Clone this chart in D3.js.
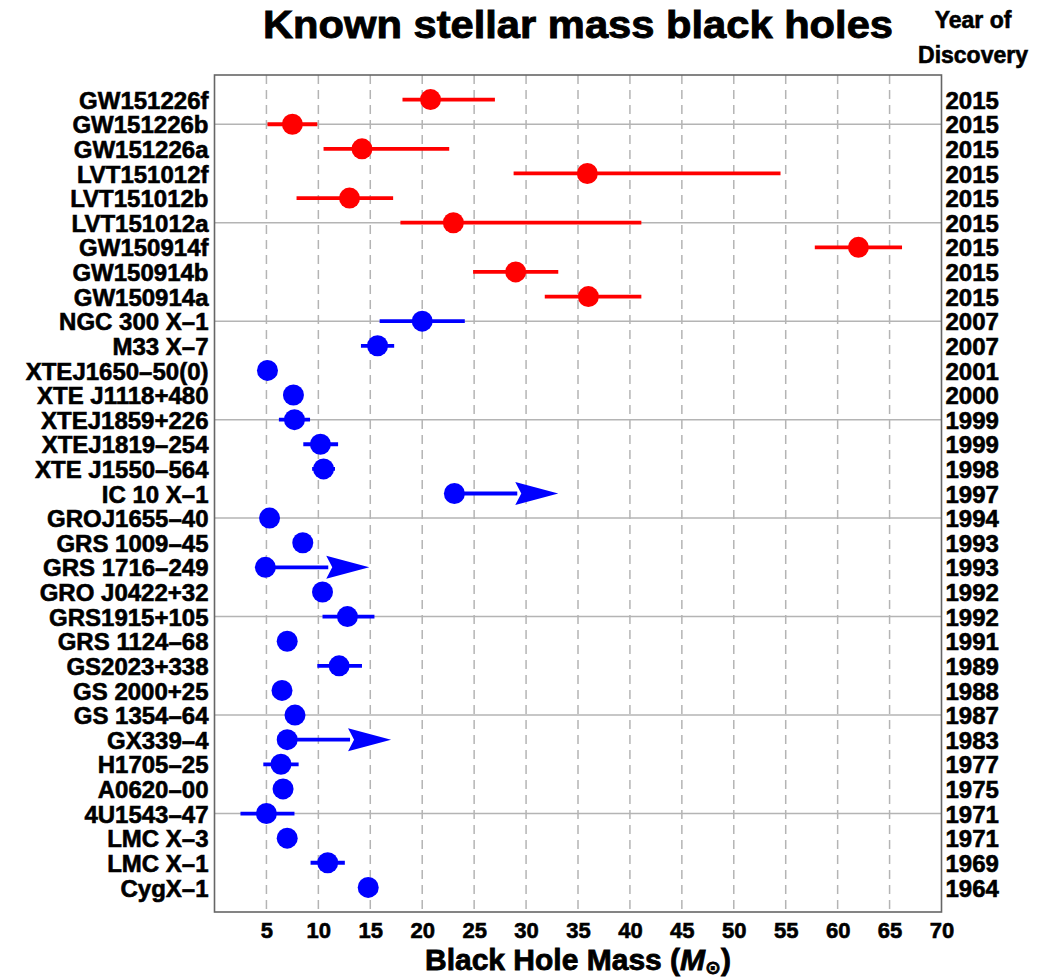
<!DOCTYPE html>
<html>
<head>
<meta charset="utf-8">
<script src="https://cdn.jsdelivr.net/npm/d3@7"></script>
<style>
  html, body { margin: 0; padding: 0; background: #fff; }
  svg text { font-family: "Liberation Sans", Arial, Helvetica, sans-serif; font-weight: bold; fill: #000;
             stroke: #000; stroke-width: 0.6px; paint-order: stroke; }
</style>
</head>
<body>
<svg id="chart" width="1054" height="979"></svg>
<script>
// Known stellar-mass black holes: name, discovery year, mass estimate (solar masses)
const names = [
  "GW151226f", "GW151226b", "GW151226a",
  "LVT151012f", "LVT151012b", "LVT151012a",
  "GW150914f", "GW150914b", "GW150914a",
  "NGC 300 X–1", "M33 X–7", "XTEJ1650–50(0)", "XTE J1118+480",
  "XTEJ1859+226", "XTEJ1819–254", "XTE J1550–564", "IC 10 X–1",
  "GROJ1655–40", "GRS 1009–45", "GRS 1716–249", "GRO J0422+32",
  "GRS1915+105", "GRS 1124–68", "GS2023+338", "GS 2000+25",
  "GS 1354–64", "GX339–4", "H1705–25", "A0620–00",
  "4U1543–47", "LMC X–3", "LMC X–1", "CygX–1"
];
const years = [
  2015, 2015, 2015, 2015, 2015, 2015, 2015, 2015, 2015,
  2007, 2007, 2001, 2000, 1999, 1999, 1998, 1997,
  1994, 1993, 1993, 1992, 1992, 1991, 1989, 1988,
  1987, 1983, 1977, 1975, 1971, 1971, 1969, 1964
];
// gravitational-wave detections vs. X-ray binaries
const detection = [
  "gw", "gw", "gw", "gw", "gw", "gw", "gw", "gw", "gw",
  "xray", "xray", "xray", "xray", "xray", "xray", "xray", "xray",
  "xray", "xray", "xray", "xray", "xray", "xray", "xray", "xray",
  "xray", "xray", "xray", "xray", "xray", "xray", "xray", "xray"
];
const mass = [
  20.8, 7.5, 14.2, 35.9, 13.0, 23.0, 62.0, 29.0, 36.0,
  20.0, 15.7, 5.1, 7.6, 7.7, 10.2, 10.5, 23.1,
  5.3, 8.5, 4.9, 10.4, 12.8, 7.0, 12.0, 6.5,
  7.75, 7.0, 6.4, 6.6, 5.0, 7.0, 10.9, 14.8
];
// lower / upper ends of the uncertainty range (null where none is drawn)
const massLow = [
  18.1, 5.1, 10.5, 28.8, 7.9, 17.9, 57.8, 24.9, 31.8,
  15.9, 14.1, null, null, 6.2, 8.55, 9.4, null,
  null, null, null, null, 10.4, null, 9.9, null,
  null, null, 4.7, null, 2.5, null, 9.25, null
];
const massHigh = [
  27.0, 9.9, 22.6, 54.5, 17.2, 41.1, 66.2, 33.1, 41.1,
  24.1, 17.3, null, null, 9.2, 11.9, 11.6, null,
  null, null, null, null, 15.4, null, 14.2, null,
  null, null, 8.1, null, 7.7, null, 12.55, null
];
// lower limits only: arrow pointing to larger masses
const limitArrowTo = [
  null, null, null, null, null, null, null, null, null,
  null, null, null, null, null, null, null, 33.1,
  null, null, 14.9, null, null, null, null, null,
  null, 17.0, null, null, null, null, null, null
];
const xTicks = [5, 10, 15, 20, 25, 30, 35, 40, 45, 50, 55, 60, 65, 70];
const xDomain = [0, 70];

const colorOf = { gw: "#ff0000", xray: "#0000ff" };

const rows = names.map((name, i) => ({
  name, year: years[i], kind: detection[i], mass: mass[i],
  lo: massLow[i], hi: massHigh[i], arrowTo: limitArrowTo[i]
}));

const svg = d3.select("#chart");
const plotL = 214.5, plotR = 941.5, plotT = 75, plotB = 912;

const x = d3.scaleLinear().domain(xDomain).range([plotL, plotR]);
const y = d3.scalePoint().domain(names).range([plotT, plotB]).padding(1);

// vertical dashed grid
svg.append("g").selectAll("line")
  .data(xTicks.filter(t => t < xDomain[1]))
  .join("line")
  .attr("x1", d => x(d)).attr("x2", d => x(d))
  .attr("y1", plotT).attr("y2", plotB)
  .attr("stroke", "#b4b4b4").attr("stroke-width", 1.5)
  .attr("stroke-dasharray", "9,6");

// solid horizontal grid every fourth row
svg.append("g").selectAll("line")
  .data(names.filter((d, i) => i % 4 === 1))
  .join("line")
  .attr("x1", plotL).attr("x2", plotR)
  .attr("y1", d => y(d)).attr("y2", d => y(d))
  .attr("stroke", "#b4b4b4").attr("stroke-width", 1.5);

// frame
svg.append("rect")
  .attr("x", plotL).attr("y", plotT)
  .attr("width", plotR - plotL).attr("height", plotB - plotT)
  .attr("fill", "none").attr("stroke", "#666").attr("stroke-width", 1.6);

// x axis labels
const xAxis = d3.axisBottom(x).tickValues(xTicks).tickSize(0).tickPadding(0).tickFormat(d3.format("d"));
const gx = svg.append("g").attr("transform", `translate(0,${plotB})`).call(xAxis);
gx.select(".domain").remove();
gx.selectAll("text")
  .attr("y", 26).attr("dy", 0)
  .style("font-size", "22px")
  .style("font-family", "'Liberation Sans', Arial, sans-serif")
  .style("font-weight", "bold")
  .attr("fill", "#000");

// row names on the left
const yAxis = d3.axisLeft(y).tickSize(0).tickPadding(6);
const gy = svg.append("g").attr("transform", `translate(${plotL},0)`).call(yAxis);
gy.select(".domain").remove();
gy.selectAll("text")
  .attr("dy", "0.36em")
  .style("font-size", "24px")
  .style("font-family", "'Liberation Sans', Arial, sans-serif")
  .style("font-weight", "bold")
  .attr("fill", "#000");

// discovery years on the right
const yearOf = new Map(rows.map(r => [r.name, r.year]));
const yAxisR = d3.axisRight(y).tickSize(0).tickPadding(4).tickFormat(n => yearOf.get(n));
const gyr = svg.append("g").attr("transform", `translate(${plotR},0)`).call(yAxisR);
gyr.select(".domain").remove();
gyr.selectAll("text")
  .attr("dy", "0.36em")
  .style("font-size", "24px")
  .style("font-family", "'Liberation Sans', Arial, sans-serif")
  .style("font-weight", "bold")
  .attr("fill", "#000");

const marks = svg.append("g");

// uncertainty bars
marks.selectAll("line.err")
  .data(rows.filter(r => r.lo !== null))
  .join("line").attr("class", "err")
  .attr("x1", d => x(d.lo)).attr("x2", d => x(d.hi))
  .attr("y1", d => y(d.name)).attr("y2", d => y(d.name))
  .attr("stroke", d => colorOf[d.kind]).attr("stroke-width", 3.8);

// lower-limit arrows
const headLen = 43, headHalf = 11.5;
const arrows = marks.selectAll("g.limit")
  .data(rows.filter(r => r.arrowTo !== null))
  .join("g").attr("class", "limit");
arrows.append("line")
  .attr("x1", d => x(d.mass)).attr("x2", d => x(d.arrowTo) - headLen + 2)
  .attr("y1", d => y(d.name)).attr("y2", d => y(d.name))
  .attr("stroke", d => colorOf[d.kind]).attr("stroke-width", 3.8);
arrows.append("path")
  .attr("d", d => {
    const tip = x(d.arrowTo), cy = y(d.name);
    return `M${tip},${cy} L${tip - headLen},${cy - headHalf} L${tip - headLen + 6},${cy} L${tip - headLen},${cy + headHalf} Z`;
  })
  .attr("fill", d => colorOf[d.kind]);

// mass estimates
marks.selectAll("circle")
  .data(rows)
  .join("circle")
  .attr("cx", d => x(d.mass)).attr("cy", d => y(d.name))
  .attr("r", 10.5)
  .attr("fill", d => colorOf[d.kind]);

// titles
svg.append("text")
  .attr("x", (plotL + plotR) / 2).attr("y", 38)
  .attr("text-anchor", "middle")
  .attr("textLength", 630).attr("lengthAdjust", "spacingAndGlyphs")
  .style("font-size", "38px")
  .style("stroke-width", "0.9px")
  .text("Known stellar mass black holes");

svg.append("text")
  .attr("x", 973).attr("y", 28)
  .attr("text-anchor", "middle")
  .style("font-size", "23px")
  .text("Year of");
svg.append("text")
  .attr("x", 973).attr("y", 63)
  .attr("text-anchor", "middle")
  .style("font-size", "23px")
  .text("Discovery");

const xt = svg.append("text")
  .attr("x", (plotL + plotR) / 2).attr("y", 970)
  .attr("text-anchor", "middle")
  .style("font-size", "30px")
  .style("stroke-width", "0.8px");
xt.append("tspan").text("Black Hole Mass (");
xt.append("tspan").style("font-style", "italic").text("M");
xt.append("tspan").attr("dy", 4).style("font-size", "19px")
  .style("font-family", "'DejaVu Sans', sans-serif").text("⊙");
xt.append("tspan").attr("dy", -4).text(")");
</script>
</body>
</html>
